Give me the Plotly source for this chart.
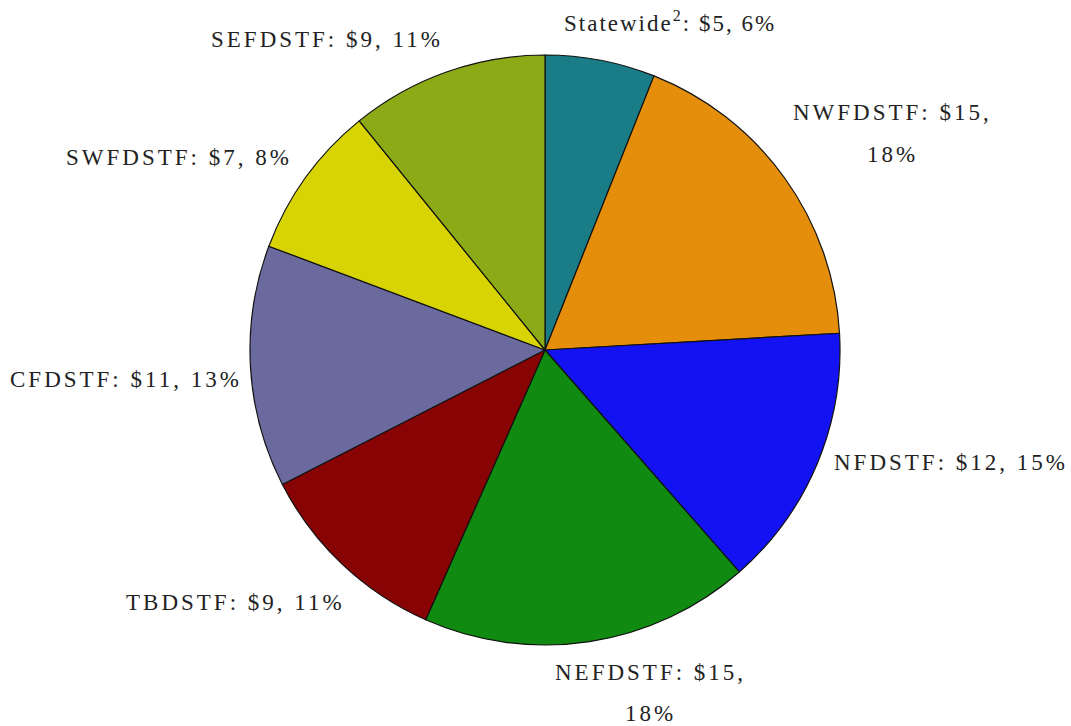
import plotly.graph_objects as go

categories = ["Statewide", "NWFDSTF", "NFDSTF", "NEFDSTF", "TBDSTF", "CFDSTF", "SWFDSTF", "SEFDSTF"]
values = [5, 15, 12, 15, 9, 11, 7, 9]
percents = [6, 18, 15, 18, 11, 13, 8, 11]

colors = ["#1a7c86", "#e48e0c", "#1212f2", "#118a11", "#880404", "#6a6a9e", "#d8d404", "#8caa16"]

W, H = 1071, 726
cx, cy, r = 545, 350, 295

fig = go.Figure(go.Pie(
    labels=categories, values=values, sort=False, direction="clockwise", rotation=0,
    marker=dict(colors=colors, line=dict(color="#111111", width=1.2)),
    textinfo="none", hoverinfo="label+value+percent", showlegend=False,
    domain=dict(x=[(cx - r) / W, (cx + r) / W], y=[1 - (cy + r) / H, 1 - (cy - r) / H]),
))

def label_lines(i, wrap):
    name = categories[i]
    if name == "Statewide":
        name = "Statewide<sup>2</sup>"
    if wrap:
        return [f"{name}: ${values[i]},", f"{percents[i]}%"]
    return [f"{name}: ${values[i]}, {percents[i]}%"]

# label positions (pixel centres of first line), wrap flag, letter spacing
label_pos = [
    (670, 22, False, 2),
    (892, 113, True, 3),
    (951, 463, False, 3),
    (650, 672, True, 3),
    (235, 602, False, 3),
    (126, 379, False, 3),
    (179, 158, False, 3),
    (327, 39, False, 3),
]
line_gap = 41

for i, (px, py, wrap, ls) in enumerate(label_pos):
    for k, t in enumerate(label_lines(i, wrap)):
        fig.add_annotation(
            x=px / W, y=1 - (py + k * line_gap) / H, xref="paper", yref="paper",
            text=f'<span style="letter-spacing:{ls}px">{t}</span>',
            showarrow=False, xanchor="center", yanchor="middle", align="center",
            font=dict(family="Liberation Serif", size=23, color="#222222"),
        )

fig.update_layout(
    width=W, height=H, margin=dict(l=0, r=0, t=0, b=0),
    paper_bgcolor="white", plot_bgcolor="white",
)

fig.write_html("out.html")
